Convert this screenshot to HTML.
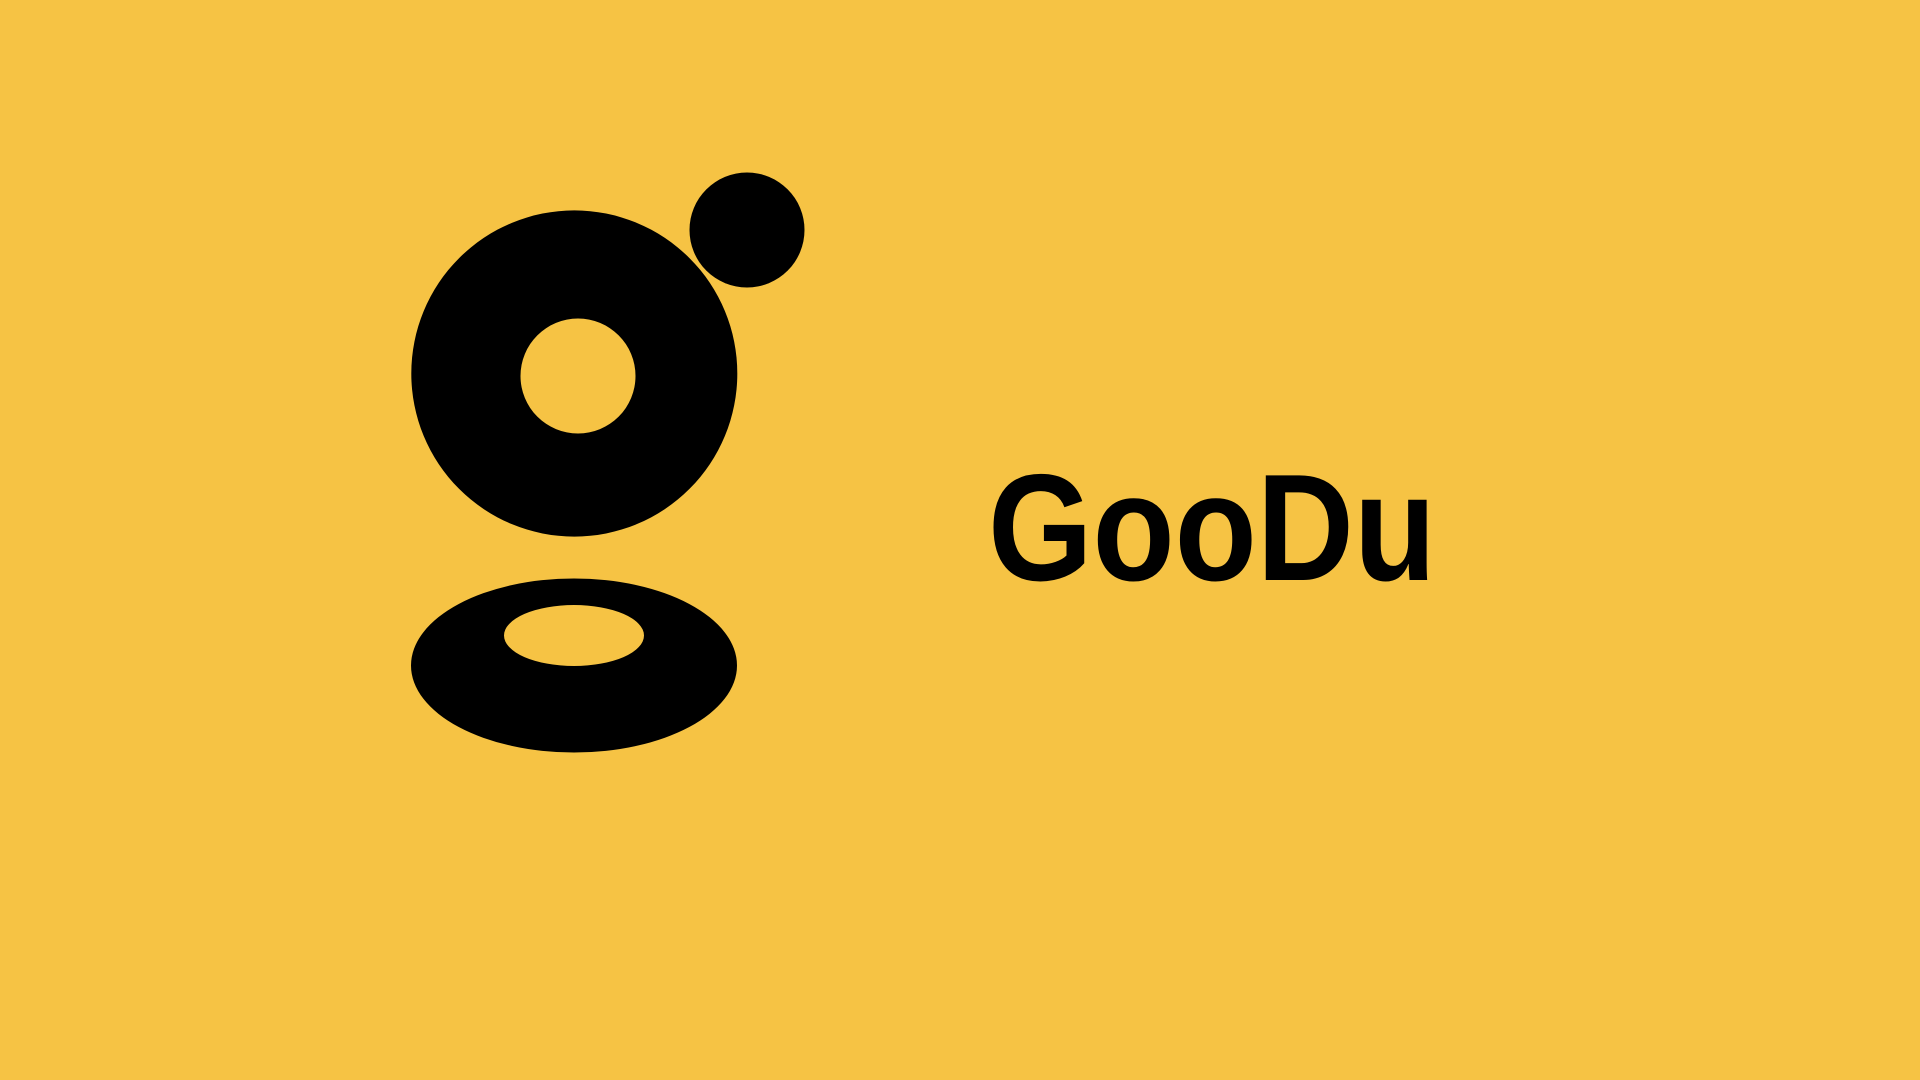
<!DOCTYPE html>
<html>
<head>
<meta charset="utf-8">
<style>
  html,body{margin:0;padding:0;width:1920px;height:1080px;overflow:hidden;background:#F6C344;}
  svg{display:block;}
</style>
</head>
<body>
<svg width="1920" height="1080" viewBox="0 0 1920 1080">
  <rect width="1920" height="1080" fill="#F6C344"/>
  <g fill-rule="evenodd">
    <path fill="#000"
      d="M411.3,373.5 a163,163 0 1,0 326,0 a163,163 0 1,0 -326,0 Z M520.5,376 a57.5,57.5 0 1,1 115,0 a57.5,57.5 0 1,1 -115,0 Z"/>
    <circle cx="747" cy="230" r="57.5" fill="#000"/>
    <path fill="#000"
      d="M411,665.5 a163,87 0 1,0 326,0 a163,87 0 1,0 -326,0 Z M504,635.5 a70,30.5 0 1,1 140,0 a70,30.5 0 1,1 -140,0 Z"/>
  </g>
  <text x="988" y="580" font-family="Liberation Sans, sans-serif" font-weight="bold" font-size="152" textLength="448" lengthAdjust="spacingAndGlyphs" fill="#000">GooDu</text>
</svg>
</body>
</html>
